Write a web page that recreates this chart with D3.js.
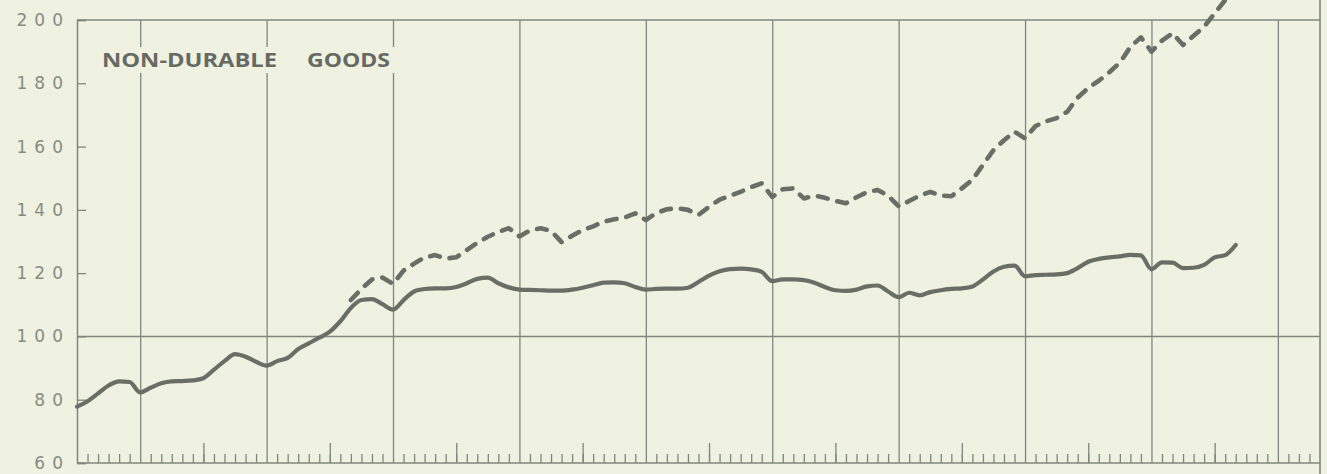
<!DOCTYPE html>
<html>
<head>
<meta charset="utf-8">
<script src="https://cdn.jsdelivr.net/npm/d3@7"></script>
<style>
  html, body { margin: 0; padding: 0; background: #eff1e1; overflow: hidden; }
  svg { display: block; }
</style>
</head>
<body>
<svg id="chart" width="1327" height="474"></svg>
<script>
// monthly index values, starting mid-year (month 0 = left edge)
const solidValues = [
  77.8, 79.5, 82.0, 84.5, 85.8, 85.6, 82.3, 83.8, 85.2, 85.8, 85.9, 86.1,
  86.8, 89.5, 92.2, 94.4, 93.6, 92.0, 90.8, 92.2, 93.2, 96.0, 97.8, 99.6,
  101.5, 104.8, 109.0, 111.5, 111.8, 110.2, 108.5, 111.5, 114.2, 115.0, 115.2, 115.2,
  115.6, 116.8, 118.2, 118.6, 116.8, 115.5, 114.8, 114.7, 114.6, 114.5, 114.5, 114.8,
  115.4, 116.2, 117.0, 117.1, 116.8, 115.6, 114.8, 115.0, 115.1, 115.1, 115.4, 117.2,
  119.2, 120.6, 121.3, 121.4, 121.2, 120.4, 117.5, 118.0, 118.0, 117.8, 117.0, 115.6,
  114.6, 114.4, 114.8, 115.8, 116.1, 114.2, 112.4, 113.8, 113.0, 114.0, 114.6, 115.0,
  115.2, 115.8, 118.0, 120.5, 122.0, 122.4, 119.0, 119.4, 119.5, 119.6, 120.0, 121.6,
  123.6, 124.5, 125.0, 125.3, 125.8, 125.6, 121.2, 123.4, 123.3, 121.6, 121.7, 122.6,
  125.0, 125.7, 128.9
];

const dashedStartMonth = 26;
const dashedValues = [
  111.5, 115.0, 118.0, 118.6, 116.6, 120.8, 123.0, 125.0, 125.7, 124.6,
  125.0, 127.3, 129.6, 131.5, 133.0, 134.2, 131.6, 133.5, 134.2, 133.4, 129.8, 131.8,
  133.6, 134.8, 136.3, 137.0, 137.6, 138.9, 136.8, 139.0, 140.2, 140.5, 140.0, 138.4,
  141.0, 143.2, 144.5, 145.7, 147.2, 148.4, 144.1, 146.5, 146.8, 143.6, 144.5, 143.8,
  142.8, 142.1, 144.0, 145.6, 146.3, 144.5, 141.1, 142.8, 144.5, 145.7, 144.5, 144.3,
  146.8, 149.5, 154.2, 158.9, 162.0, 164.7, 162.6, 166.5, 168.0, 169.0, 171.0, 175.5,
  178.5, 180.8, 183.5, 186.5, 191.5, 194.5, 190.0, 193.5, 195.8, 192.1, 195.0, 197.9,
  202.1, 206.3
];

const yTicks = [60, 80, 100, 120, 140, 160, 180, 200];
const yTickLabels = ["60", "80", "100", "120", "140", "160", "180", "200"];
const totalMonths = 118;
const yearStarts = [6, 18, 30, 42, 54, 66, 78, 90, 102, 114];
const title = ["NON-DURABLE", "GOODS"];

const svg = d3.select("#chart");
const margin = {left: 77, top: 20, right: 7, bottom: 11};
const width = +svg.attr("width");
const height = +svg.attr("height");

const ink = "#696f67";
const grid = "#7f877c";

const x = d3.scaleLinear().domain([0, totalMonths]).range([margin.left, width - margin.right]);
const y = d3.scaleLinear().domain([60, 200]).range([height - margin.bottom, margin.top]);

svg.append("rect").attr("width", width).attr("height", height).attr("fill", "#eff1e1");

// vertical year lines
const yearAxis = svg.append("g")
  .attr("transform", `translate(0,${y(60)})`)
  .call(d3.axisBottom(x).tickValues(yearStarts).tickSize(-(y(60) - y(200))).tickFormat(""));

// monthly ticks along the bottom
const months = d3.range(1, totalMonths);
const monthAxis = svg.append("g")
  .attr("transform", `translate(0,${y(60)})`)
  .call(d3.axisBottom(x).tickValues(months.filter(m => (m - 6) % 12 !== 0)).tickSize(-9).tickFormat(""));

const midAxis = svg.append("g")
  .attr("transform", `translate(0,${y(60)})`)
  .call(d3.axisBottom(x).tickValues(months.filter(m => m % 12 === 0)).tickSize(-20).tickFormat(""));

[yearAxis, monthAxis, midAxis].forEach(g => {
  g.select(".domain").remove();
  g.selectAll("line").attr("stroke", grid).attr("stroke-width", 1.3);
});

// left axis
const yAxis = svg.append("g")
  .attr("transform", `translate(${x(0)},0)`)
  .call(d3.axisLeft(y).tickValues(yTicks).tickSize(-9).tickPadding(7)
    .tickFormat((d, i) => yTickLabels[i]));
yAxis.select(".domain").attr("stroke", grid).attr("stroke-width", 1.5);
yAxis.selectAll("line").attr("stroke", grid).attr("stroke-width", 1.3);
yAxis.selectAll("text")
  .attr("fill", "#878c83")
  .style("font-family", "'DejaVu Sans', sans-serif")
  .style("font-size", "17px")
  .style("letter-spacing", "7px");

// full-width horizontal lines at 60, 100, 200
svg.selectAll(".hline").data([60, 100, 200]).enter().append("line")
  .attr("x1", x(0)).attr("x2", x(totalMonths))
  .attr("y1", d => y(d)).attr("y2", d => y(d))
  .attr("stroke", grid).attr("stroke-width", 1.5);

// right border runs the full height
svg.append("line")
  .attr("x1", x(totalMonths)).attr("x2", x(totalMonths))
  .attr("y1", 0).attr("y2", height)
  .attr("stroke", grid).attr("stroke-width", 1.6);

// title with knocked-out background
const tg = svg.append("g");
tg.append("rect").attr("x", 96).attr("y", 47).attr("width", 300).attr("height", 26).attr("fill", "#eff1e1");
tg.append("text").attr("x", 102).attr("y", 67).attr("textLength", 175).attr("lengthAdjust", "spacingAndGlyphs")
  .text(title[0]);
tg.append("text").attr("x", 307).attr("y", 67).attr("textLength", 83).attr("lengthAdjust", "spacingAndGlyphs")
  .text(title[1]);
tg.selectAll("text")
  .attr("fill", "#666a63")
  .style("font-family", "'Open Sans', sans-serif")
  .style("font-weight", 700)
  .style("font-size", "20px");

// series
const solidLine = d3.line()
  .x((d, i) => x(i))
  .y(d => y(d))
  .curve(d3.curveMonotoneX);

svg.append("path")
  .datum(solidValues)
  .attr("d", solidLine)
  .attr("fill", "none")
  .attr("stroke", ink)
  .attr("stroke-width", 4.2)
  .attr("stroke-linejoin", "round")
  .attr("stroke-linecap", "round");

const dashedLine = d3.line()
  .x((d, i) => x(i + dashedStartMonth))
  .y(d => y(d));

svg.append("path")
  .datum(dashedValues)
  .attr("d", dashedLine)
  .attr("fill", "none")
  .attr("stroke", ink)
  .attr("stroke-width", 4.6)
  .attr("stroke-dasharray", "10 10")
  .attr("stroke-linejoin", "round")
  .attr("stroke-linecap", "round");
</script>
</body>
</html>
